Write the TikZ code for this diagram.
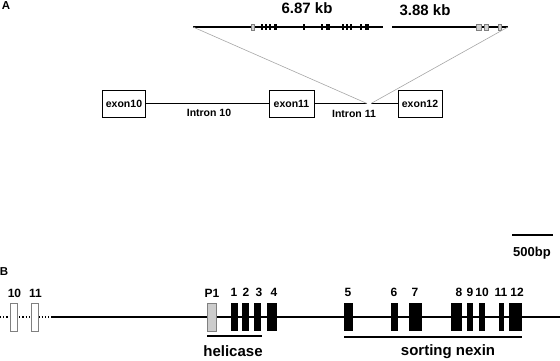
\documentclass[tikz,border=0pt]{standalone}
\usepackage{fontspec}
\setmainfont{Liberation Sans}
\usetikzlibrary{positioning}
\tikzset{
  backbone/.style={line width=1.6pt},
  zoomline/.style={gray!70, line width=0.6pt},
  exonbox/.style={draw, line width=0.9pt, minimum width=43pt, minimum height=27pt, inner sep=0pt, font=\bfseries\fontsize{10.5}{12}\selectfont},
  minibar/.style={fill=black, inner sep=0pt, minimum height=6pt},
  minibox/.style={draw=gray, fill=gray!35, line width=0.5pt, inner sep=0pt, minimum height=6pt},
  exonbar/.style={fill=black, inner sep=0pt, minimum height=28pt},
  numlab/.style={font=\bfseries\fontsize{12}{14}\selectfont},
  bigtext/.style={font=\bfseries\fontsize{15}{17}\selectfont}
}
\begin{document}
\begin{tikzpicture}[x=1pt, y=-1pt]
\useasboundingbox (0,0) rectangle (560,361);
\node[font=\bfseries\fontsize{11.5}{13}\selectfont] (pA) at (6,6) {A};
% genomic segments inside intron 11
\node[bigtext] (kb1) at (307,8) {6.87 kb};
\node[bigtext] (kb2) at (425,10) {3.88 kb};
\coordinate (s1a) at (193,27); \coordinate (s1b) at (383,27);
\coordinate (s2a) at (392,27); \coordinate (s2b) at (508,27);
\draw[backbone] (s1a) -- (s1b);
\draw[backbone] (s2a) -- (s2b);
\foreach \x/\w in {262/2.5, 266/2.5, 270/2.5, 275.5/3.5, 304/2.5, 322/2.5, 327.5/4, 343/2.5, 347/2.5, 351/2.5, 361/2.5, 366.5/4}
  \node[minibar, minimum width=\w pt] at (\x,27) {};
\foreach \x/\w in {253/3, 478.5/5, 486/4, 499.5/3}
  \node[minibox, minimum width=\w pt] at (\x,27) {};
% exon 10 - exon 12
\node[exonbox] (ex10) at (124,103.5) {exon10};
\node[exonbox, minimum width=45pt] (ex11) at (291.5,103.5) {exon11};
\node[exonbox, minimum width=44pt] (ex12) at (420,103.5) {exon12};
\coordinate (gapl) at (367,103.5); \coordinate (gapr) at (371,103.5);
\draw[backbone] (ex10) -- (ex11);
\draw[backbone] (ex11) -- (gapl);
\draw[backbone] (gapr) -- (ex12);
\draw[zoomline] (s1a) -- (gapl);
\draw[zoomline] (s2b) -- (gapr);
\node[font=\bfseries\fontsize{10.5}{12}\selectfont] at (209,113) {Intron 10};
\node[font=\bfseries\fontsize{10.5}{12}\selectfont] at (354,114) {Intron 11};
% scale bar
\coordinate (sb1) at (512,235); \coordinate (sb2) at (553,235);
\draw[line width=1.6pt] (sb1) -- (sb2);
\node[font=\bfseries\fontsize{13}{15}\selectfont] at (532,253) {500bp};
% B: gene structure
\node[font=\bfseries\fontsize{11.5}{13}\selectfont] (pB) at (4,272) {B};
\coordinate (g0) at (0,317); \coordinate (g1) at (52,317); \coordinate (g2) at (560,317);
\draw[line width=1.2pt, dotted] (g0) -- (g1);
\draw[line width=1.4pt] (g1) -- (g2);
\foreach \x/\l in {13.5/10, 34.5/11} {
  \node[draw=gray, fill=white, line width=0.6pt, inner sep=0pt, minimum width=7pt, minimum height=28pt] (o\l) at (\x,317) {};
  \node[numlab] at (\x+1,293) {\l};
}
\node[draw=gray, fill=gray!40, line width=0.6pt, inner sep=0pt, minimum width=9pt, minimum height=28pt] (xP1) at (211.5,317) {};
\node[numlab] at (212,293) {P1};
\foreach \x/\w/\lx/\l in {234.5/6.5/234/1, 245.5/7/246/2, 257.5/7/259/3, 272/10/274/4, 348.5/9/348/5, 394.5/7/394/6, 415.5/13/415/7, 456.5/11/459/8, 470/6/470/9, 482/6/482/10, 501.5/5/501/11, 515.5/13/517/12} {
  \node[exonbar, minimum width=\w pt] (x\l) at (\x,317) {};
  \node[numlab] at (\lx,292) {\l};
}
% protein domains
\coordinate (h1) at (207,336); \coordinate (h2) at (262,336);
\coordinate (n1) at (344,337); \coordinate (n2) at (522,337);
\draw[line width=2.2pt] (h1) -- (h2);
\draw[line width=2.2pt] (n1) -- (n2);
\node[bigtext] at (233,351) {helicase};
\node[bigtext] at (448,352) {sorting nexin};
\end{tikzpicture}
\end{document}
